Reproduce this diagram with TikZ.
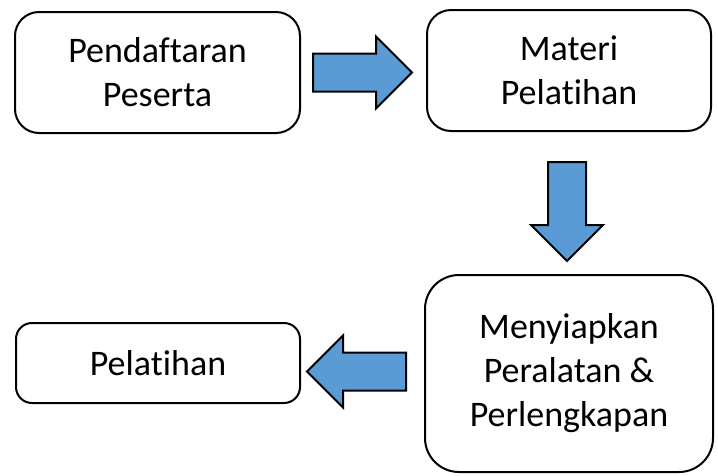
\documentclass[tikz,border=0pt]{standalone}
\usepackage{fontspec}
\setmainfont{Carlito}[Ligatures={NoCommon,NoRare},Contextuals=NoAlternate]
\usetikzlibrary{shapes.arrows}
\definecolor{ArrowClr}{RGB}{91,155,213}

\begin{document}
\begin{tikzpicture}[x=1pt,y=-1pt,
  box/.style={draw=black,line width=2pt,rounded corners=24pt,align=center,inner sep=0pt,
    font=\fontsize{36}{44}\selectfont},
  blockarrow/.style={single arrow,draw=black,line width=2pt,fill=ArrowClr,
    inner xsep=0pt,inner ysep=18pt,minimum height=99pt,
    single arrow head extend=17pt,single arrow head indent=0pt}]
\useasboundingbox (0,0) rectangle (718,475);

\node[box,minimum width=285pt,minimum height=121pt] (daftar) at (157.5,72.5) {Pendaftaran\\Peserta};
\node[box,minimum width=284pt,minimum height=121pt] (materi) at (569,70.5) {Materi\\Pelatihan};
\node[box,minimum width=288pt,minimum height=197pt,rounded corners=34pt] (alat) at (569,373.5) {Menyiapkan\\Peralatan \&\\Perlengkapan};
\node[box,minimum width=284pt,minimum height=80pt,rounded corners=16pt] (latih) at (158,363) {Pelatihan};

\node[blockarrow,anchor=tail] (a1) at ([xshift=11pt]daftar.east) {};
\node[blockarrow,rotate=-90,anchor=tail] (a2) at ([xshift=-2pt,yshift=-29pt]materi.south) {};
\node[blockarrow,rotate=180,anchor=tail] (a3) at ([xshift=-17pt,yshift=2pt]alat.west) {};

\end{tikzpicture}
\end{document}
